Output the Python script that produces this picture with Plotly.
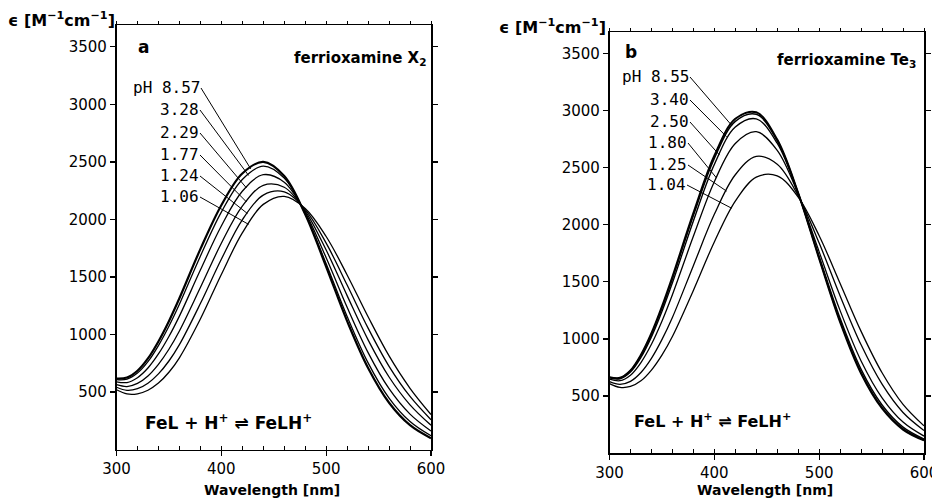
import numpy as np
import plotly.graph_objects as go

# ---------------- data ----------------
wavelength = [300, 310, 320, 330, 340, 350, 360, 380, 400, 420, 440, 460, 480, 500, 520, 540, 560, 580, 600]
x_tick_values = [300, 400, 500, 600]
y_tick_values = [500, 1000, 1500, 2000, 2500, 3000, 3500]

# panel a : ferrioxamine X2
ph_labels_a = ["8.57", "3.28", "2.29", "1.77", "1.24", "1.06"]
eps_a_857 = [618, 626, 685, 792, 940, 1116, 1315, 1742, 2124, 2400, 2500, 2377, 2044, 1589, 1117, 709, 407, 212, 99]
eps_a_328 = [608, 612, 665, 764, 904, 1072, 1263, 1681, 2064, 2348, 2463, 2359, 2049, 1615, 1157, 754, 448, 244, 120]
eps_a_229 = [589, 583, 625, 709, 831, 983, 1160, 1560, 1943, 2245, 2389, 2324, 2060, 1668, 1237, 843, 529, 308, 161]
eps_a_177 = [564, 548, 575, 640, 741, 872, 1031, 1408, 1793, 2116, 2297, 2280, 2073, 1734, 1338, 954, 631, 389, 212]
eps_a_124 = [542, 515, 529, 577, 658, 770, 912, 1269, 1654, 1997, 2212, 2240, 2085, 1794, 1430, 1056, 724, 462, 260]
eps_a_106 = [520, 484, 485, 516, 578, 672, 798, 1135, 1522, 1883, 2131, 2201, 2096, 1852, 1518, 1154, 814, 533, 305]

# panel b : ferrioxamine Te3
ph_labels_b = ["8.55", "3.40", "2.50", "1.80", "1.25", "1.04"]
eps_b_855 = [665, 659, 724, 861, 1050, 1283, 1544, 2102, 2605, 2929, 2986, 2747, 2278, 1703, 1146, 696, 390, 205, 110]
eps_b_340 = [663, 656, 720, 854, 1040, 1270, 1528, 2082, 2582, 2907, 2969, 2737, 2277, 1709, 1156, 707, 399, 212, 114]
eps_b_250 = [659, 651, 710, 838, 1018, 1241, 1492, 2034, 2529, 2857, 2929, 2715, 2274, 1723, 1180, 733, 421, 227, 123]
eps_b_180 = [648, 634, 682, 793, 953, 1155, 1387, 1899, 2378, 2713, 2816, 2652, 2267, 1763, 1248, 807, 484, 271, 148]
eps_b_125 = [626, 602, 628, 706, 830, 994, 1188, 1642, 2092, 2439, 2600, 2531, 2254, 1840, 1377, 948, 603, 355, 197]
eps_b_104 = [608, 575, 583, 633, 727, 858, 1021, 1425, 1850, 2208, 2418, 2429, 2243, 1904, 1486, 1066, 703, 426, 238]

series_a = [eps_a_857, eps_a_328, eps_a_229, eps_a_177, eps_a_124, eps_a_106]
series_b = [eps_b_855, eps_b_340, eps_b_250, eps_b_180, eps_b_125, eps_b_104]

# ---------------- layout constants ----------------
W, H = 932, 502
X_RANGE = [300, 600]
Y_RANGE = [0, 3690]
PANEL_A = dict(x0=116.5, x1=431.0, ytop=25.0, ybot=449.6)
PANEL_B = dict(x0=609.5, x1=924.0, ytop=32.0, ybot=453.0)

widths_a = [2.2, 1.3, 1.3, 1.3, 1.3, 1.3]
widths_b = [2.0, 1.5, 1.4, 1.3, 1.3, 1.3]

# where each leader line meets its curve (nm) and right-middle of each label (px)
leader_wl_a = [428, 426, 424, 424, 425, 426]
label_px_a = [(201, 88), (200, 110), (200, 133), (200, 155), (200, 176), (200, 197)]
leader_wl_b = [416.5, 411.7, 405, 402, 411.7, 416.5]
label_px_b = [(690, 77), (690, 100), (690, 122), (688, 143), (688, 165), (687, 185)]

FONT = "DejaVu Sans"
MONO = "DejaVu Sans Mono"


def px(x):
    return x / W


def py(y):
    return 1 - y / H


def to_data(panel, xp, yp):
    lam = X_RANGE[0] + (xp - panel["x0"]) / (panel["x1"] - panel["x0"]) * (X_RANGE[1] - X_RANGE[0])
    val = Y_RANGE[0] + (panel["ybot"] - yp) / (panel["ybot"] - panel["ytop"]) * (Y_RANGE[1] - Y_RANGE[0])
    return lam, val


fig = go.Figure()

for s, w in zip(series_a, widths_a):
    fig.add_trace(go.Scatter(x=wavelength, y=s, mode="lines", xaxis="x", yaxis="y",
                             line=dict(color="black", width=w, shape="spline", smoothing=1.0),
                             hoverinfo="skip", showlegend=False))
for s, w in zip(series_b, widths_b):
    fig.add_trace(go.Scatter(x=wavelength, y=s, mode="lines", xaxis="x2", yaxis="y2",
                             line=dict(color="black", width=w, shape="spline", smoothing=1.0),
                             hoverinfo="skip", showlegend=False))
# invisible traces so that the top tick axes are drawn
fig.add_trace(go.Scatter(x=wavelength, y=eps_a_857, mode="lines", xaxis="x3", yaxis="y",
                         line=dict(width=0), opacity=0, hoverinfo="skip", showlegend=False))
fig.add_trace(go.Scatter(x=wavelength, y=eps_b_855, mode="lines", xaxis="x4", yaxis="y2",
                         line=dict(width=0), opacity=0, hoverinfo="skip", showlegend=False))


def xaxis_main(panel, anchor):
    return dict(domain=[panel["x0"] / W, panel["x1"] / W], anchor=anchor, range=X_RANGE,
                automargin=False, ticklabeloverflow="allow",
                showline=True, linecolor="black", linewidth=1.6, mirror=False,
                ticks="outside", ticklen=5, tickwidth=1.2, tickcolor="black",
                tickmode="array", tickvals=x_tick_values, ticktext=[str(v) for v in x_tick_values],
                tickfont=dict(family=FONT, size=15, color="black"),
                minor=dict(ticks="inside", tickmode="linear", tick0=300, dtick=20, ticklen=4,
                           tickwidth=1, tickcolor="black", showgrid=False),
                showgrid=False, zeroline=False, fixedrange=True)


def xaxis_top(overlay, anchor):
    return dict(overlaying=overlay, anchor=anchor, side="top", range=X_RANGE,
                automargin=False,
                showline=True, linecolor="black", linewidth=1.3,
                ticks="outside", ticklen=3, tickwidth=1, tickcolor="black",
                tickmode="linear", tick0=300, dtick=20, showticklabels=False,
                showgrid=False, zeroline=False, fixedrange=True)


def yaxis_main(panel, anchor):
    return dict(domain=[1 - panel["ybot"] / H, 1 - panel["ytop"] / H], anchor=anchor, range=Y_RANGE,
                automargin=False, ticklabeloverflow="allow",
                showline=True, linecolor="black", linewidth=1.6, mirror="ticks",
                ticks="outside", ticklen=5, tickwidth=1.2, tickcolor="black",
                tickmode="array", tickvals=y_tick_values, ticktext=[str(v) for v in y_tick_values],
                tickfont=dict(family=FONT, size=15, color="black"),
                showgrid=False, zeroline=False, fixedrange=True)


annotations = []


def txt(text, x, y, size, xanchor="left", bold=True, family=FONT):
    annotations.append(dict(text=("<b>%s</b>" % text) if bold else text, xref="paper", yref="paper",
                            x=px(x), y=py(y), xanchor=xanchor, yanchor="middle", showarrow=False,
                            font=dict(family=family, size=size, color="black")))


eps_title = "ϵ [M<sup>−1</sup>cm<sup>−1</sup>]"
txt(eps_title, 117, 20, 16, xanchor="right")
txt(eps_title, 608, 27, 16, xanchor="right")
txt("a", 136, 47, 17)
txt("b", 623, 52, 17)
txt("ferrioxamine X<sub>2</sub>", 292, 58, 15)
txt("ferrioxamine Te<sub>3</sub>", 775, 60, 15)
txt("Wavelength [nm]", 272, 490, 14, xanchor="center")
txt("Wavelength [nm]", 765, 490, 14, xanchor="center")
txt("FeL + H<sup>+</sup> ⇌ FeLH<sup>+</sup>", 143, 422, 17)
txt("FeL + H<sup>+</sup> ⇌ FeLH<sup>+</sup>", 632, 420, 16)


def leaders(panel, xref, yref, labels, series, wls, pos):
    for i, (lab, s, wl, (tx, ty)) in enumerate(zip(labels, series, wls, pos)):
        head_y = float(np.interp(wl, wavelength, s))
        tail_x, tail_y = to_data(panel, tx, ty)
        text = ("pH " + lab) if i == 0 else lab
        annotations.append(dict(text=text, xref=xref, yref=yref, x=wl, y=head_y,
                                axref=xref, ayref=yref, ax=tail_x, ay=tail_y,
                                xanchor="right", yanchor="middle", showarrow=True,
                                arrowhead=0, arrowwidth=1, arrowcolor="black", standoff=0,
                                startstandoff=0, borderpad=0,
                                font=dict(family=MONO, size=16, color="black")))


leaders(PANEL_A, "x", "y", ph_labels_a, series_a, leader_wl_a, label_px_a)
leaders(PANEL_B, "x2", "y2", ph_labels_b, series_b, leader_wl_b, label_px_b)

fig.update_layout(
    template="none",
    width=W, height=H, margin=dict(l=0, r=0, t=0, b=0, autoexpand=False),
    paper_bgcolor="white", plot_bgcolor="white", showlegend=False,
    xaxis=xaxis_main(PANEL_A, "y"), yaxis=yaxis_main(PANEL_A, "x"),
    xaxis2=xaxis_main(PANEL_B, "y2"), yaxis2=yaxis_main(PANEL_B, "x2"),
    xaxis3=xaxis_top("x", "y"), xaxis4=xaxis_top("x2", "y2"),
    annotations=annotations,
)

fig.write_html("out.html", config={"displayModeBar": False, "staticPlot": True},
               post_script="document.body.style.margin='0px';")
